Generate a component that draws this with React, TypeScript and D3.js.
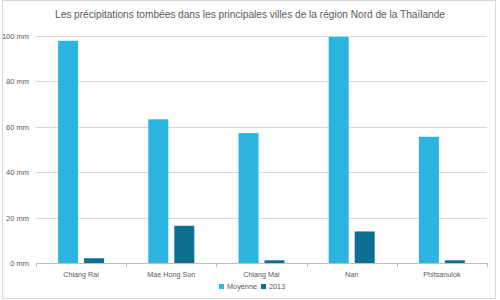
import React from 'react';
import * as d3 from 'd3';

// Rainfall (mm) in the main cities of northern Thailand
const cities = ['Chiang Rai', 'Mae Hong Son', 'Chiang Mai', 'Nan', 'Phitsanulok'];
const moyenne = [97.9, 63.3, 57.2, 99.6, 55.6];
const annee2013 = [2.1, 16.4, 1.2, 13.9, 1.2];
const seriesNames = ['Moyenne', '2013'];
const yTicks = [0, 20, 40, 60, 80, 100];

const width = 500;
const height = 300;
const margin = { top: 36, right: 13, bottom: 37, left: 36 };
const colors = ['#2BB3E1', '#0F6F90'];
const textColor = '#595959';
const font = '"Liberation Sans", Arial, sans-serif';

const App: React.FC = () => {
  const x = d3
    .scaleBand<string>()
    .domain(cities)
    .range([margin.left, width - margin.right]);

  const y = d3
    .scaleLinear()
    .domain([0, 100])
    .range([height - margin.bottom, margin.top]);

  const barWidth = 20;
  const barGap = 6;
  const series = [moyenne, annee2013];

  const legendX = 219;

  return (
    <svg
      width={width}
      height={height}
      style={{ position: 'absolute', left: 0, top: 0, fontFamily: font }}
    >
      <rect x={0} y={0} width={width} height={height} fill="#fff" />
      <rect x={2.5} y={0.5} width={493} height={298} fill="none" stroke="#D9D9D9" />

      <text
        x={250}
        y={18}
        textAnchor="middle"
        fontSize={11.5}
        fill={textColor}
        textLength={390}
        lengthAdjust="spacingAndGlyphs"
      >
        Les précipitations tombées dans les principales villes de la région Nord de la Thaïlande
      </text>

      {/* gridlines and y labels */}
      {yTicks.map((t) => (
        <g key={t}>
          {t > 0 && (
            <line
              x1={margin.left}
              x2={width - margin.right}
              y1={Math.round(y(t)) + 0.5}
              y2={Math.round(y(t)) + 0.5}
              stroke="#D9D9D9"
            />
          )}
          <text
            x={29}
            y={y(t) + 3}
            textAnchor="end"
            fontSize={7.5}
            fill={textColor}
          >
            {`${t} mm`}
          </text>
        </g>
      ))}

      {/* bars */}
      {cities.map((c, i) => {
        const cx = (x(c) as number) + x.bandwidth() / 2;
        return (
          <g key={c}>
            {series.map((s, j) => {
              const bx = j === 0 ? cx - barGap / 2 - barWidth : cx + barGap / 2;
              return (
                <rect
                  key={j}
                  x={bx}
                  y={y(s[i])}
                  width={barWidth}
                  height={y(0) - y(s[i])}
                  fill={colors[j]}
                />
              );
            })}
            <text
              x={cx}
              y={height - margin.bottom + 14}
              textAnchor="middle"
              fontSize={7.2}
              fill={textColor}
            >
              {c}
            </text>
          </g>
        );
      })}

      {/* x axis */}
      <line
        x1={margin.left}
        x2={width - margin.right}
        y1={Math.round(y(0)) + 0.5}
        y2={Math.round(y(0)) + 0.5}
        stroke="#BFBFBF"
      />
      {[...cities.map((c) => x(c) as number), width - margin.right].map((tx, i) => (
        <line
          key={i}
          x1={Math.round(tx) + 0.5}
          x2={Math.round(tx) + 0.5}
          y1={y(0)}
          y2={y(0) + 4}
          stroke="#BFBFBF"
        />
      ))}

      {/* legend */}
      {seriesNames.map((name, j) => {
        const lx = legendX + j * 42;
        return (
          <g key={name}>
            <rect x={lx} y={284} width={5} height={5} fill={colors[j]} />
            <text x={lx + 8} y={289} fontSize={7.3} fill={textColor}>
              {name}
            </text>
          </g>
        );
      })}
    </svg>
  );
};

export default App;
